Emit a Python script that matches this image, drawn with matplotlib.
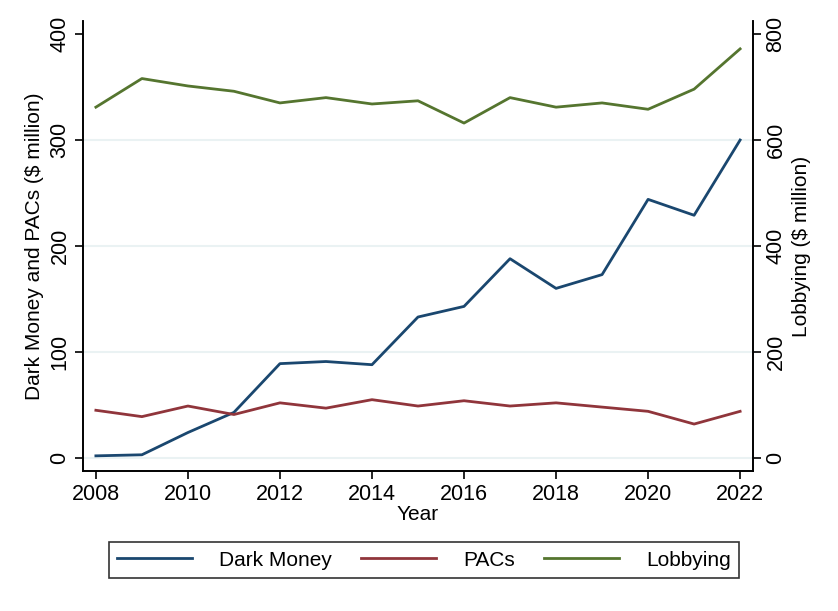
import numpy as np
import matplotlib.pyplot as plt

plt.rcParams['font.family'] = ['Liberation Sans', 'DejaVu Sans']

## Data ##
years = [2008, 2009, 2010, 2011, 2012, 2013, 2014, 2015,
         2016, 2017, 2018, 2019, 2020, 2021, 2022]
dark_money = [2, 3, 24, 43, 89, 91, 88, 133, 143, 188, 160, 173, 244, 229, 300]
pacs = [45, 39, 49, 41, 52, 47, 55, 49, 54, 49, 52, 48, 44, 32, 44]
lobbying = [662, 716, 702, 692, 670, 680, 668, 674, 632, 680, 662, 670, 658, 696, 772]

navy = '#1a476f'
maroon = '#90353b'
green = '#55752f'

fig = plt.figure(figsize=(8.38, 6.11), dpi=100)
ax = fig.add_axes([83/838, (611-471)/611, (753-83)/838, (471-21)/611])
ax2 = ax.twinx()

l1, = ax.plot(years, dark_money, color=navy, lw=2)
l2, = ax.plot(years, pacs, color=maroon, lw=2)
l3, = ax2.plot(years, lobbying, color=green, lw=2)

ax.set_xlim(2007.72, 2022.28)
ax.set_ylim(-12.3, 412.3)
ax2.set_ylim(-24.6, 824.6)
ax.set_xticks(np.arange(2008, 2023, 2))
ax.set_yticks([0, 100, 200, 300, 400])
ax2.set_yticks([0, 200, 400, 600, 800])

for y in [0, 100, 200, 300]:
    ax.axhline(y, color='#eaf2f3', lw=1.5, zorder=0)

for a in (ax, ax2):
    a.spines['top'].set_visible(False)
    for s in a.spines.values():
        s.set_linewidth(1.2)
    a.tick_params(axis='both', labelsize=15.5, width=1.2, length=6, pad=3)
ax.tick_params(axis='y', labelrotation=90)
ax2.tick_params(axis='y', labelrotation=90)
for t in ax.get_yticklabels() + ax2.get_yticklabels():
    t.set_va('center')

ax.set_xlabel('Year', fontsize=15, labelpad=0)
ax.set_ylabel('Dark Money and PACs ($ million)', fontsize=15, labelpad=4)
ax2.set_ylabel('Lobbying ($ million)', fontsize=15, labelpad=4)

leg = fig.legend([l1, l2, l3], ['Dark Money', 'PACs', 'Lobbying'],
                 loc='center', bbox_to_anchor=(424/838, (611-560)/611),
                 ncol=3, fontsize=15, handlelength=3.6, columnspacing=1.4,
                 handletextpad=1.3, fancybox=False, edgecolor='black',
                 borderpad=0.4, borderaxespad=0)
leg.get_frame().set_linewidth(1.2)

plt.savefig('out.png', dpi=100)
